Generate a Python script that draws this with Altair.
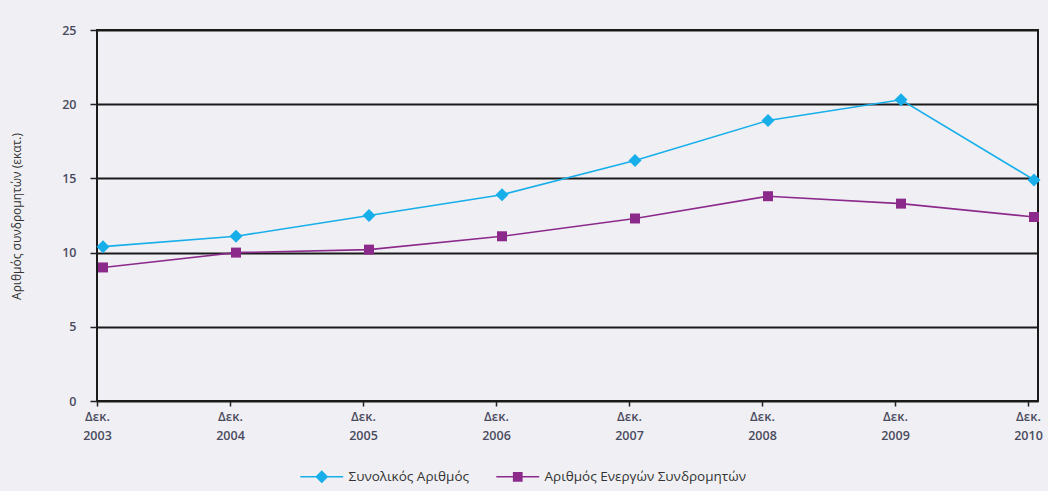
import altair as alt
import pandas as pd

# Subscriber counts (millions), December of each year
years = [2003, 2004, 2005, 2006, 2007, 2008, 2009, 2010]
total_subs = [10.4, 11.1, 12.5, 13.9, 16.2, 18.9, 20.3, 14.9]
active_subs = [9.0, 10.0, 10.2, 11.1, 12.3, 13.8, 13.3, 12.4]

series_names = ["Συνολικός Αριθμός", "Αριθμός Ενεργών Συνδρομητών"]
series_colors = ["#17aeea", "#8c2a8c"]
# legend glyphs: a thin filled bar through the marker (same winding, so the union is filled)
legend_shapes = [
    "M-3.3,-0.12L3.3,-0.12L3.3,0.12L-3.3,0.12ZM0,-1L1,0L0,1L-1,0Z",
    "M-3.3,-0.12L3.3,-0.12L3.3,0.12L-3.3,0.12ZM-0.75,-0.75L0.75,-0.75L0.75,0.75L-0.75,0.75Z",
]
legend_x = [218, 414]

df = pd.DataFrame({
    "year": years * 2,
    "value": total_subs + active_subs,
    "series": [series_names[0]] * len(years) + [series_names[1]] * len(years),
})

FONT = "Open Sans"
BG = "#f0f0f4"

x_enc = alt.X(
    "year:Q",
    scale=alt.Scale(domain=[2002.955, 2010.03], nice=False, zero=False),
    axis=alt.Axis(
        values=years,
        labelExpr="['Δεκ.', toString(datum.value)]",
        title=None,
        grid=False,
        domain=False,
        tickOffset=-6,
        tickSize=5,
        tickColor="#222",
        tickWidth=1.5,
        labelPadding=4,
        labelLineHeight=19,
        labelFont=FONT,
        labelFontSize=12.5,
        labelFontWeight=600,
        labelColor="#4a4a5e",
        labelBaseline="top",
    ),
)
y_enc = alt.Y(
    "value:Q",
    scale=alt.Scale(domain=[0, 25], nice=False),
    axis=alt.Axis(
        values=[0, 5, 10, 15, 20, 25],
        title="Αριθμός συνδρομητών (εκατ.)",
        titleFont=FONT,
        titleFontSize=12,
        titleFontWeight="normal",
        titleColor="#333",
        titleAngle=-90,
        titleX=-81,
        titleY=186,
        titleAlign="center",
        titleBaseline="middle",
        grid=True,
        gridColor="#1a1a1a",
        gridWidth=2,
        domain=False,
        tickSize=7,
        tickColor="#222",
        tickWidth=1.5,
        labelPadding=14,
        labelFont=FONT,
        labelFontSize=12.5,
        labelFontWeight=600,
        labelColor="#4a4a5e",
    ),
)

color_scale = alt.Scale(domain=series_names, range=series_colors)
color_enc = alt.Color("series:N", scale=color_scale, legend=None)

lines = alt.Chart(df).mark_line(strokeWidth=1.6).encode(x=x_enc, y=y_enc, color=color_enc)

diamonds = (
    alt.Chart(df)
    .transform_filter(alt.datum.series == series_names[0])
    .mark_point(filled=True, opacity=1, shape="diamond", size=169)
    .encode(x=x_enc, y=y_enc, color=color_enc)
)

squares = (
    alt.Chart(df)
    .transform_filter(alt.datum.series == series_names[1])
    .mark_point(filled=True, opacity=1, shape="square", size=100)
    .encode(x=x_enc, y=y_enc, color=color_enc)
)


def legend_entry(i):
    # a layer with no rows of its own: it only carries one legend entry,
    # taken from the explicit scale domain
    leg = alt.Legend(
        title=None,
        orient="none",
        legendX=legend_x[i],
        legendY=440,
        symbolType=legend_shapes[i],
        symbolFillColor=series_colors[i],
        symbolStrokeColor=series_colors[i],
        symbolStrokeWidth=0,
        symbolOpacity=1,
        labelFont=FONT,
        labelFontSize=13.5,
        labelColor="#333",
        labelOffset=20,
        labelLimit=400,
    )
    return (
        alt.Chart(df)
        .transform_filter("false")
        .mark_point(filled=True, color=series_colors[i])
        .encode(
            x=x_enc,
            y=y_enc,
            size=alt.Size(
                "series:N",
                scale=alt.Scale(type="ordinal", domain=[series_names[i]], range=[169]),
                legend=leg,
            ),
        )
    )


chart = (
    alt.layer(lines, diamonds, squares, legend_entry(0), legend_entry(1))
    .resolve_scale(size="independent")
    .resolve_legend(size="independent")
    .properties(
        width=941,
        height=371,
        autosize=alt.AutoSizeParams(type="none"),
        padding={"left": 97, "top": 30, "right": 10, "bottom": 90},
        background=BG,
    )
    .configure_view(stroke="#1a1a1a", strokeWidth=2)
)

chart.save("out.html", embed_options={"renderer": "svg", "actions": False})
